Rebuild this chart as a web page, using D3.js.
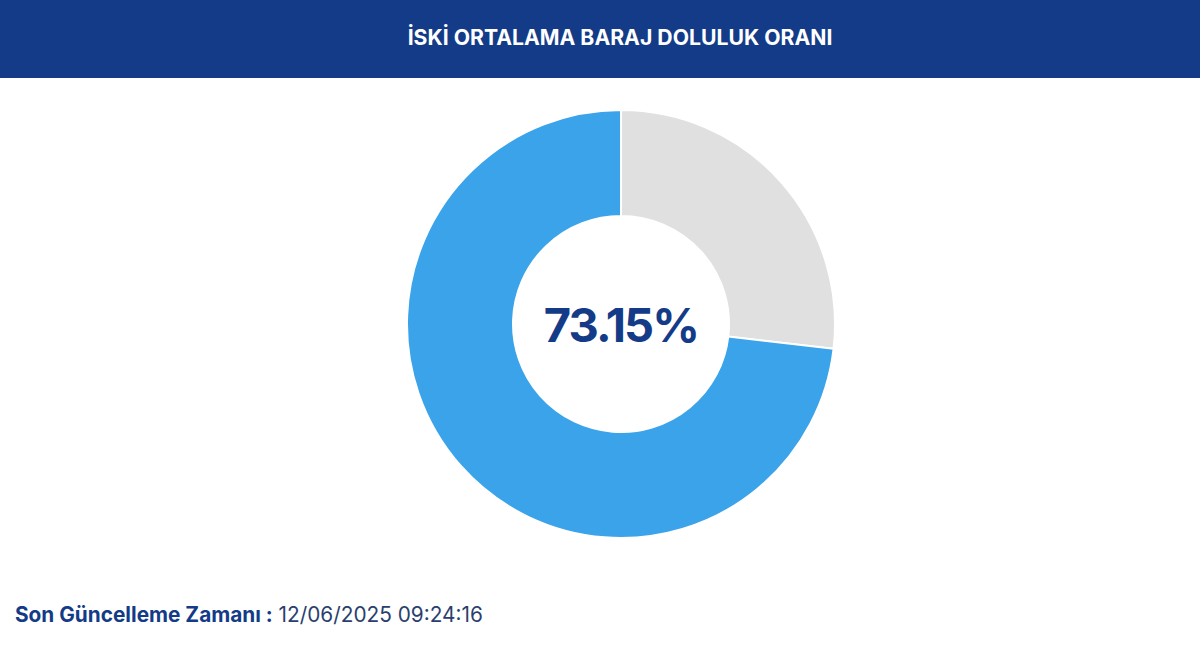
<!DOCTYPE html>
<html><head><meta charset="utf-8">
<script src="https://cdn.jsdelivr.net/npm/d3@7"></script>
<style>html,body{margin:0;padding:0;background:#fff;}svg{display:block;}</style>
</head><body>
<svg id="c" width="1200" height="647"></svg>
<script>
const title = "İSKİ ORTALAMA BARAJ DOLULUK ORANI";
const categories = ["Boş", "Dolu"];
const values = [26.85, 73.15];
const colors = ["#e0e0e0", "#3aa3ea"];
const centerLabel = "73.15%";
const footerLabel = "Son Güncelleme Zamanı :";
const footerValue = " 12/06/2025 09:24:16";

const svg = d3.select("#c");
const W = 1200, H = 647;
const navy = "#133b87";

svg.append("rect").attr("x",0).attr("y",0).attr("width",W).attr("height",78).attr("fill",navy);
svg.append("text").attr("x",620).attr("y",45).attr("text-anchor","middle")
  .attr("font-family","Inter, 'Open Sans', sans-serif").attr("font-weight",700)
  .attr("font-size",21.2).attr("fill","#fff").text(title);

const cx = 621, cy = 324, R = 214, r = 108;
const pie = d3.pie().sort(null).value(d => d)(values);
const arc = d3.arc().innerRadius(r).outerRadius(R);
const g = svg.append("g").attr("transform",`translate(${cx},${cy})`);
g.selectAll("path").data(pie).join("path")
  .attr("d", arc).attr("fill",(d,i)=>colors[i])
  .attr("stroke","#fff").attr("stroke-width",2);

g.append("text").attr("x",0).attr("y",18).attr("text-anchor","middle")
  .attr("font-family","Inter, 'Open Sans', sans-serif").attr("font-weight",700)
  .attr("font-size",47).attr("letter-spacing",-1.8).attr("fill",navy).text(centerLabel);

const ft = svg.append("text").attr("x",15).attr("y",622)
  .attr("font-family","Inter, 'Open Sans', sans-serif").attr("font-size",20.8).attr("fill",navy);
ft.append("tspan").attr("font-weight",700).text(footerLabel);
ft.append("tspan").attr("font-weight",400).attr("fill","#2a3f6e").text(footerValue);
</script>
</body></html>
